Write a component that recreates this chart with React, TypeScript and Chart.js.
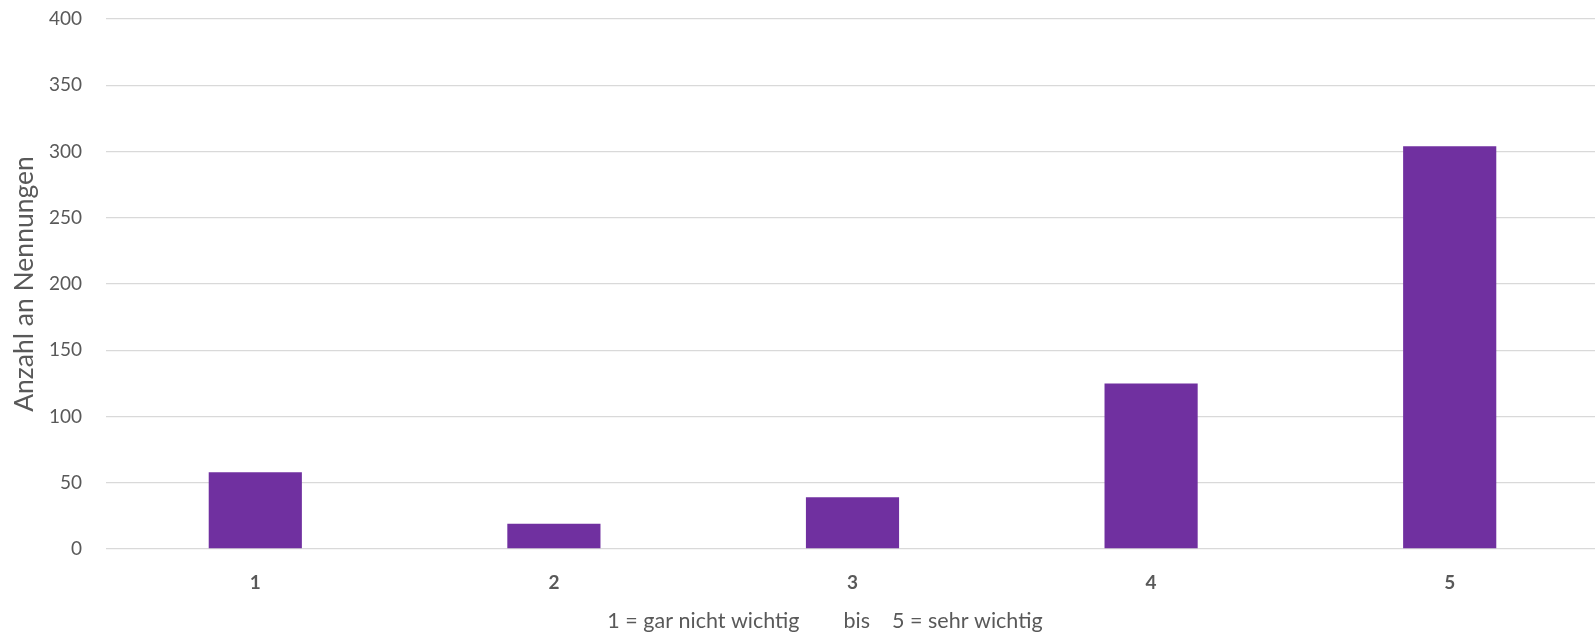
import React, { useEffect, useRef } from "react";
import { Chart, registerables } from "chart.js";

Chart.register(...registerables);

const categories = ["1", "2", "3", "4", "5"];
const counts = [58, 19, 39, 125, 304];
const yTitle = "Anzahl an Nennungen";
const xTitle = "1 = gar nicht wichtig        bis    5 = sehr wichtig          ";

export default function App() {
  const ref = useRef<HTMLCanvasElement | null>(null);

  useEffect(() => {
    document.body.style.margin = "0";
    document.body.style.overflow = "hidden";
    document.documentElement.style.overflow = "hidden";
    const ctx = ref.current!;
    const chart = new Chart(ctx, {
      type: "bar",
      data: {
        labels: categories,
        datasets: [
          {
            data: counts,
            backgroundColor: "#7030A0",
            borderWidth: 0,
            categoryPercentage: 1,
            barPercentage: 0.312,
          },
        ],
      },
      options: {
        responsive: false,
        animation: false,
        layout: { padding: { top: 19, right: 1, left: 0, bottom: 0 } },
        plugins: { legend: { display: false }, tooltip: { enabled: false } },
        scales: {
          y: {
            min: 0,
            max: 400,
            ticks: {
              stepSize: 50,
              padding: 24,
              color: "#595959",
              font: { family: "Lato", size: 19 },
            },
            grid: { color: "#D9D9D9", lineWidth: 1.3, drawTicks: false },
            border: { display: false },
            title: {
              display: true,
              text: yTitle,
              color: "#595959",
              font: { family: "Lato", size: 26.5 },
              padding: { top: 9, bottom: 0 },
            },
            afterFit: (s: any) => {
              s.width = 106;
              s.paddingTop = 0;
              s.paddingBottom = 0;
            },
          },
          x: {
            ticks: {
              padding: 22,
              color: "#595959",
              font: { family: "Lato", size: 19, weight: "bold" },
            },
            grid: { display: false, drawTicks: false },
            border: { display: false },
            title: {
              display: true,
              text: xTitle,
              color: "#595959",
              font: { family: "Lato", size: 21.5 },
              padding: { top: 0, bottom: 0 },
            },
            afterFit: (s: any) => {
              s.height = 85;
            },
          },
        },
      },
    });
    return () => chart.destroy();
  }, []);

  return <canvas ref={ref} width={1600} height={634} style={{ display: "block" }} />;
}
